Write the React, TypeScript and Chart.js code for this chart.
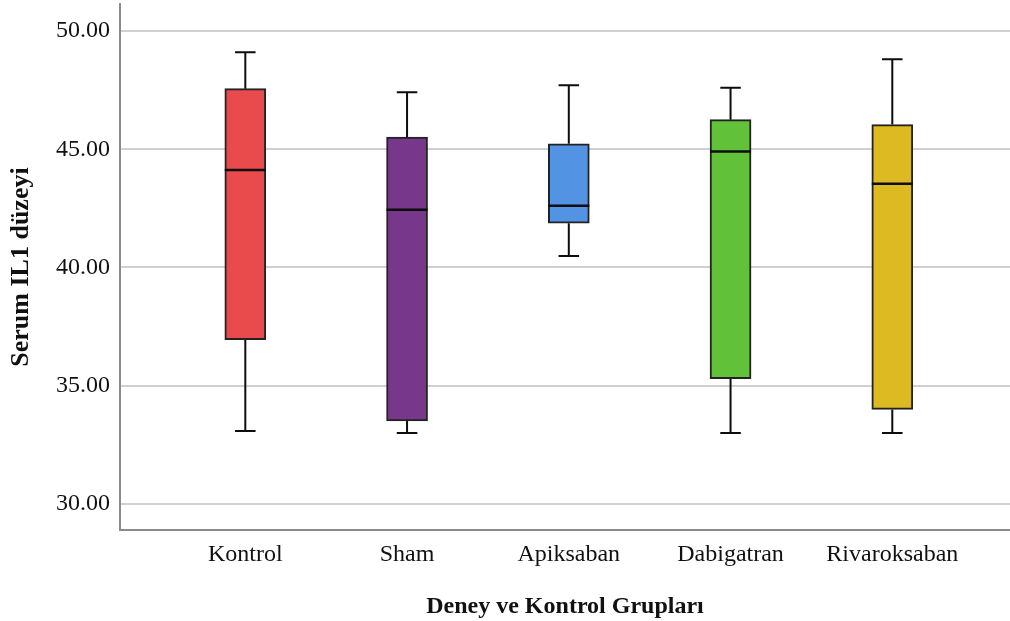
import React, { useEffect, useRef } from "react";
import { Chart, registerables } from "chart.js";

Chart.register(...registerables);

// Groups and their five-number summaries (serum IL-1 level)
const groups = ["Kontrol", "Sham", "Apiksaban", "Dabigatran", "Rivaroksaban"];
const minValues = [33.09, 33.0, 40.49, 33.0, 33.0];
const q1Values = [36.95, 33.51, 41.87, 35.3, 34.0];
const medianValues = [44.12, 42.44, 42.61, 44.9, 43.54];
const q3Values = [47.56, 45.51, 45.23, 46.25, 46.04];
const maxValues = [49.1, 47.41, 47.7, 47.6, 48.8];
const boxColors = ["#E94A4C", "#77388C", "#5293E4", "#61C23A", "#DEBA22"];
const yTickValues = [30, 35, 40, 45, 50];

const serif = "'Times New Roman', 'Liberation Serif', serif";

// Draws whiskers (behind the boxes) and median lines (on top) using the chart scales
const boxWhiskerPlugin = {
  id: "boxWhiskers",
  beforeDatasetsDraw(chart: any) {
    const { ctx, scales } = chart;
    const xs = scales.x;
    const ys = scales.y;
    const meta = chart.getDatasetMeta(0);
    ctx.save();
    ctx.strokeStyle = "#0d0d0d";
    ctx.lineWidth = 2;
    groups.forEach((_, i) => {
      const bar = meta.data[i];
      const x = xs.getPixelForValue(i);
      const cap = bar.width / 4;
      const yMax = ys.getPixelForValue(maxValues[i]);
      const yQ3 = ys.getPixelForValue(q3Values[i]);
      const yQ1 = ys.getPixelForValue(q1Values[i]);
      const yMin = ys.getPixelForValue(minValues[i]);
      ctx.beginPath();
      ctx.moveTo(x, yMax);
      ctx.lineTo(x, yQ3);
      ctx.moveTo(x, yQ1);
      ctx.lineTo(x, yMin);
      ctx.moveTo(x - cap, yMax);
      ctx.lineTo(x + cap, yMax);
      ctx.moveTo(x - cap, yMin);
      ctx.lineTo(x + cap, yMin);
      ctx.stroke();
    });
    ctx.restore();
  },
  afterDatasetsDraw(chart: any) {
    const { ctx, scales } = chart;
    const xs = scales.x;
    const ys = scales.y;
    const meta = chart.getDatasetMeta(0);
    ctx.save();
    ctx.strokeStyle = "#0d0d0d";
    ctx.lineWidth = 2.5;
    groups.forEach((_, i) => {
      const bar = meta.data[i];
      const x = xs.getPixelForValue(i);
      const half = bar.width / 2;
      const y = ys.getPixelForValue(medianValues[i]);
      ctx.beginPath();
      ctx.moveTo(x - half, y);
      ctx.lineTo(x + half, y);
      ctx.stroke();
    });
    ctx.restore();
  },
};

export default function App() {
  const canvasRef = useRef<HTMLCanvasElement | null>(null);

  useEffect(() => {
    if (!canvasRef.current) return;
    const chart = new Chart(canvasRef.current, {
      type: "bar",
      data: {
        datasets: [
          {
            data: groups.map((_, i) => ({ x: i, y: [q1Values[i], q3Values[i]] })) as any,
            backgroundColor: boxColors,
            borderColor: "#222222",
            borderWidth: 2,
            borderSkipped: false,
            barThickness: 41,
          },
        ],
      },
      options: {
        animation: false,
        responsive: false,
        devicePixelRatio: 1,
        layout: { padding: { top: 4, right: 0, bottom: 0, left: 0 } },
        plugins: {
          legend: { display: false },
          tooltip: { enabled: false },
        },
        scales: {
          x: {
            type: "linear",
            offset: false,
            min: -0.7747,
            max: 4.7277,
            afterBuildTicks: (scale: any) => {
              scale.ticks = groups.map((_, i) => ({ value: i }));
            },
            afterFit: (scale: any) => {
              scale.height = 91;
              scale.paddingLeft = 0;
              scale.paddingRight = 0;
            },
            grid: { display: false, drawTicks: false, offset: false },
            border: { display: true, color: "#8a8a8a", width: 2 },
            ticks: {
              autoSkip: false,
              maxRotation: 0,
              padding: 10,
              color: "#111111",
              font: { family: serif, size: 24 },
              callback: (v: any) => groups[Number(v)] ?? "",
            },
            title: {
              display: true,
              text: "Deney ve Kontrol Grupları",
              color: "#111111",
              font: { family: serif, size: 24, weight: "bold" },
              padding: { top: 0, bottom: 0 },
            },
          },
          y: {
            min: 28.9,
            max: 51.14,
            afterBuildTicks: (scale: any) => {
              scale.ticks = yTickValues.map((v) => ({ value: v }));
            },
            afterFit: (scale: any) => {
              scale.width = 120;
              scale.paddingTop = 0;
              scale.paddingBottom = 0;
            },
            grid: { color: "#d0d0d0", lineWidth: 2, drawTicks: false },
            border: { display: true, color: "#8a8a8a", width: 2 },
            ticks: {
              padding: 10,
              color: "#111111",
              font: { family: serif, size: 24 },
              callback: (v: any) => Number(v).toFixed(2),
            },
            title: {
              display: true,
              text: "Serum IL1 düzeyi",
              color: "#111111",
              font: { family: serif, size: 26, weight: "bold" },
              padding: { top: 6, bottom: 0 },
            },
          },
        },
      },
      plugins: [boxWhiskerPlugin],
    });
    return () => chart.destroy();
  }, []);

  return (
    <div
      style={{
        position: "absolute",
        left: 0,
        top: 0,
        width: 1010,
        height: 621,
        background: "#ffffff",
      }}
    >
      <canvas ref={canvasRef} width={1010} height={621} />
    </div>
  );
}
